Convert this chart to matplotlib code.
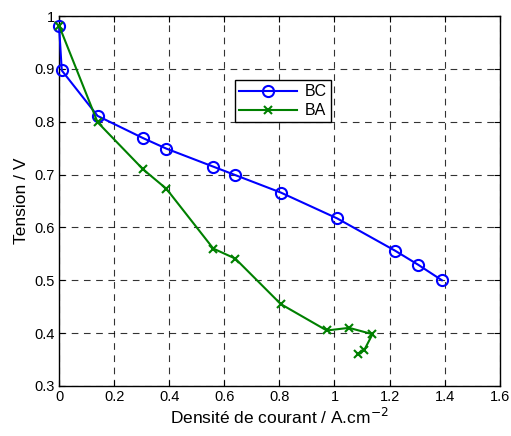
import matplotlib
matplotlib.use("Agg")
import matplotlib.pyplot as plt

plt.rcParams['font.family'] = ['Liberation Sans', 'DejaVu Sans']

# Courbes de polarisation
bc_x = [0.0, 0.01, 0.14, 0.305, 0.39, 0.56, 0.64, 0.805, 1.01, 1.22, 1.305, 1.39]
bc_y = [0.982, 0.897, 0.811, 0.769, 0.749, 0.715, 0.699, 0.666, 0.617, 0.556, 0.529, 0.500]

ba_x = [0.0, 0.14, 0.305, 0.39, 0.56, 0.64, 0.805, 0.972, 1.053, 1.138, 1.108, 1.086]
ba_y = [0.982, 0.799, 0.710, 0.673, 0.560, 0.541, 0.455, 0.405, 0.410, 0.398, 0.368, 0.361]

xticks = [0, 0.2, 0.4, 0.6, 0.8, 1, 1.2, 1.4, 1.6]
yticks = [0.3, 0.4, 0.5, 0.6, 0.7, 0.8, 0.9, 1]

fig = plt.figure(figsize=(5.11, 4.36), dpi=100)
ax = fig.add_axes([0.1155, 0.1147, 0.8625, 0.8486])

ax.plot(bc_x, bc_y, '-o', color='#0000ff', lw=1.5, markersize=8,
        markerfacecolor='none', markeredgewidth=1.5, label='BC', clip_on=False, zorder=3)
ax.plot(ba_x, ba_y, '-x', color='#008000', lw=1.5, markersize=6,
        markeredgewidth=1.5, label='BA', clip_on=False, zorder=3)

ax.set_xlim(0, 1.6)
ax.set_ylim(0.3, 1)
ax.set_xticks(xticks)
ax.set_yticks(yticks)
ax.set_xticklabels([f'{t:g}' for t in xticks])
ax.set_yticklabels([f'{t:g}' for t in yticks])
ax.tick_params(direction='in', labelsize=10.5, top=True, right=True, length=4, pad=3)

ax.grid(True, color='black', linestyle=(0, (6, 5)), linewidth=0.8, alpha=0.8)
for s in ax.spines.values():
    s.set_linewidth(1.0)

ax.set_xlabel('Densité de courant / A.cm$^{-2}$', fontsize=12.5, labelpad=2)
ax.set_ylabel('Tension / V', fontsize=12.5)

leg = ax.legend(loc='upper left', bbox_to_anchor=(0.382, 0.848), fancybox=False,
                edgecolor='black', fontsize=11.5, framealpha=1,
                handlelength=3.6, borderpad=0.25, labelspacing=0.25, handletextpad=0.5)
leg.get_frame().set_linewidth(1.0)

fig.savefig('out.png', dpi=100)
